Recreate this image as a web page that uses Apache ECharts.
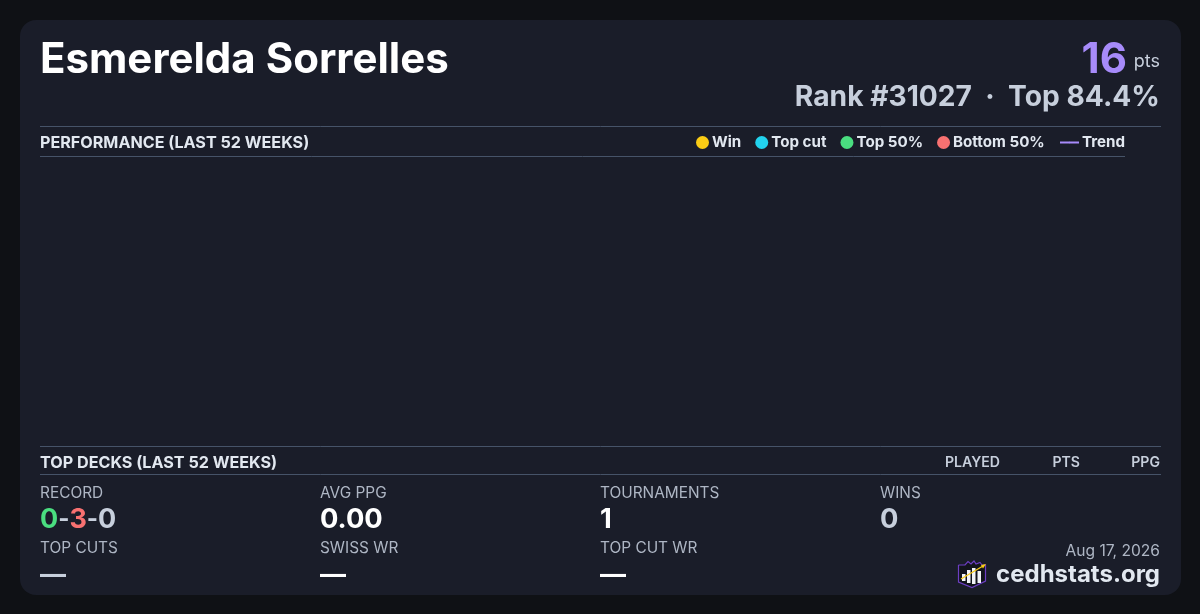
<!DOCTYPE html>
<html><head><meta charset="utf-8">
<style>html,body{margin:0;padding:0;background:#0f1115;overflow:hidden}#c{width:1200px;height:614px}</style>
<script src="https://cdn.jsdelivr.net/npm/echarts@6/dist/echarts.min.js"></script>
</head><body><div id="c"></div>
<script>
const playerName = 'Esmerelda Sorrelles';
const points = '16';
const rankText = 'Rank #31027  ·  Top 84.4%';
const perfTitle = 'PERFORMANCE (LAST 52 WEEKS)';
const decksTitle = 'TOP DECKS (LAST 52 WEEKS)';
const deckColumns = ['PLAYED', 'PTS', 'PPG'];
const resultNames = ['Win', 'Top cut', 'Top 50%', 'Bottom 50%'];
const resultColors = ['#facc15', '#22d3ee', '#4ade80', '#f87171'];
const trendName = 'Trend';
const winValues = [], topCutValues = [], top50Values = [], bottom50Values = [], trendValues = [];
const record = ['0', '3', '0'];
const topStats = [['AVG PPG', '0.00', '#ffffff'], ['TOURNAMENTS', '1', '#ffffff'], ['WINS', '0', '#c7cfdc']];
const bottomStats = [['TOP CUTS', '—', '#c7cfdc'], ['SWISS WR', '—', '#ffffff'], ['TOP CUT WR', '—', '#ffffff']];
const dateText = 'Aug 17, 2026';
const siteText = 'cedhstats.org';

const F = 'Inter';
const LINE = '#465368';
const txt = (x, y, text, size, weight, fill, align) => ({type:'text', x, y, style:{text, font:`${weight} ${size}px ${F}`, fill, textAlign:align||'left', textVerticalAlign:'middle'}});
const rule = (x1, x2, y) => ({type:'line', shape:{x1, y1:y+.5, x2, y2:y+.5}, style:{stroke:LINE, lineWidth:1}});
const colX = [320, 600, 880];
const deckX = [1000, 1080, 1160];

const elements = [
  {type:'rect', shape:{x:20, y:20, width:1161, height:575, r:16}, style:{fill:'#1a1d29'}},
  txt(40, 60, playerName, 42, 700, '#ffffff'),
  txt(1127, 60.5, points, 42, 700, '#a78bfa', 'right'),
  txt(1160, 62, 'pts', 18, 400, '#c7cfdc', 'right'),
  txt(1160, 98, rankText, 28.2, 700, '#c7cfdc', 'right'),
  rule(40, 1161, 126), rule(40, 1125, 156), rule(40, 1161, 446), rule(40, 1161, 474),
  txt(40, 143, perfTitle, 16.15, 700, '#e2e8f0'),
  txt(40, 463, decksTitle, 16.15, 700, '#e2e8f0'),
  txt(40, 493, 'RECORD', 15.4, 400, '#aeb6c4'),
  {type:'text', x:40, y:520, style:{
    text:`{w|${record[0]}}{d|-}{l|${record[1]}}{d|-}{n|${record[2]}}`, textVerticalAlign:'middle',
    rich:{w:{font:`700 27px ${F}`, fill:'#4ade80'}, l:{font:`700 27px ${F}`, fill:'#f87171'}, d:{font:`700 24px ${F}`, fill:'#c7cfdc'}, n:{font:`700 27px ${F}`, fill:'#c7cfdc'}}
  }},
  txt(1160, 551, dateText, 15.6, 400, '#aeb6c4', 'right'),
  txt(1160, 575, siteText, 24, 700, '#e2e8f0', 'right'),
  {type:'group', x:958, y:560, children:[
    {type:'polyline', shape:{points:[[0.5,5],[7,5],[10,1.5],[13,4],[16,1],[18,4],[22,2.5],[24,5],[27.5,5],[27.5,21],[14,27.5],[0.5,22],[0.5,5]]}, style:{stroke:'#6d3fc4', lineWidth:1.2, fill:'#12141c'}},
    {type:'rect', shape:{x:4, y:14, width:3.5, height:7}, style:{fill:'#f2f4f8'}},
    {type:'rect', shape:{x:9, y:10, width:3.5, height:13}, style:{fill:'#f2f4f8'}},
    {type:'rect', shape:{x:14, y:8, width:3.5, height:16}, style:{fill:'#f2f4f8'}},
    {type:'rect', shape:{x:19.5, y:11, width:3.5, height:12}, style:{fill:'#f2f4f8'}},
    {type:'line', shape:{x1:3, y1:19, x2:25, y2:6}, style:{stroke:'#facc15', lineWidth:1.3}},
    {type:'polygon', shape:{points:[[28,4],[23,5],[25,8.5]]}, style:{fill:'#facc15'}}
  ]}
];
deckColumns.forEach((t, i) => elements.push(txt(deckX[i], 462.5, t, 14.1, 600, '#c7cfdc', 'right')));
topStats.forEach((s, i) => { elements.push(txt(colX[i], 493, s[0], 15.4, 400, '#aeb6c4')); elements.push(txt(colX[i], 520, s[1], 27.3, 700, s[2])); });
bottomStats.forEach((s, i) => { const x = i===0 ? 40 : colX[i-1]; elements.push(txt(x, 548.5, s[0], 15.4, 400, '#aeb6c4')); elements.push(txt(x, 575, s[1], 26, 700, s[2])); });

const resultData = [winValues, topCutValues, top50Values, bottom50Values];
const chart = echarts.init(document.getElementById('c'), null, {renderer:'canvas', width:1200, height:614});
const legendText = {color:'#e2e8f0', fontFamily:F, fontSize:15.15, fontWeight:700};
chart.setOption({
  backgroundColor:'#0f1115',
  animation:false,
  grid:{left:40, right:75, top:157, bottom:168},
  xAxis:{type:'time', show:false},
  yAxis:{type:'value', show:false},
  legend:[
    {data:resultNames, left:696, top:135, padding:0, itemWidth:13, itemHeight:13, itemGap:14, icon:'circle', selectedMode:false, itemStyle:{opacity:1}, textStyle:{...legendText, padding:[0,0,0,-2]}},
    {data:[trendName], left:1059, top:135, padding:0, itemWidth:19, itemHeight:2, selectedMode:false, itemStyle:{opacity:1}, lineStyle:{opacity:1}, textStyle:{...legendText, padding:[0,0,0,-2]}}
  ],
  series:[
    ...resultNames.map((name, i) => ({name, type:'scatter', data:resultData[i], itemStyle:{color:resultColors[i], opacity:1}})),
    {name:trendName, type:'line', data:trendValues, showSymbol:false, symbol:'none', lineStyle:{color:'#a78bfa', width:2}, itemStyle:{color:'#a78bfa'}}
  ],
  graphic:{elements}
});
</script></body></html>
